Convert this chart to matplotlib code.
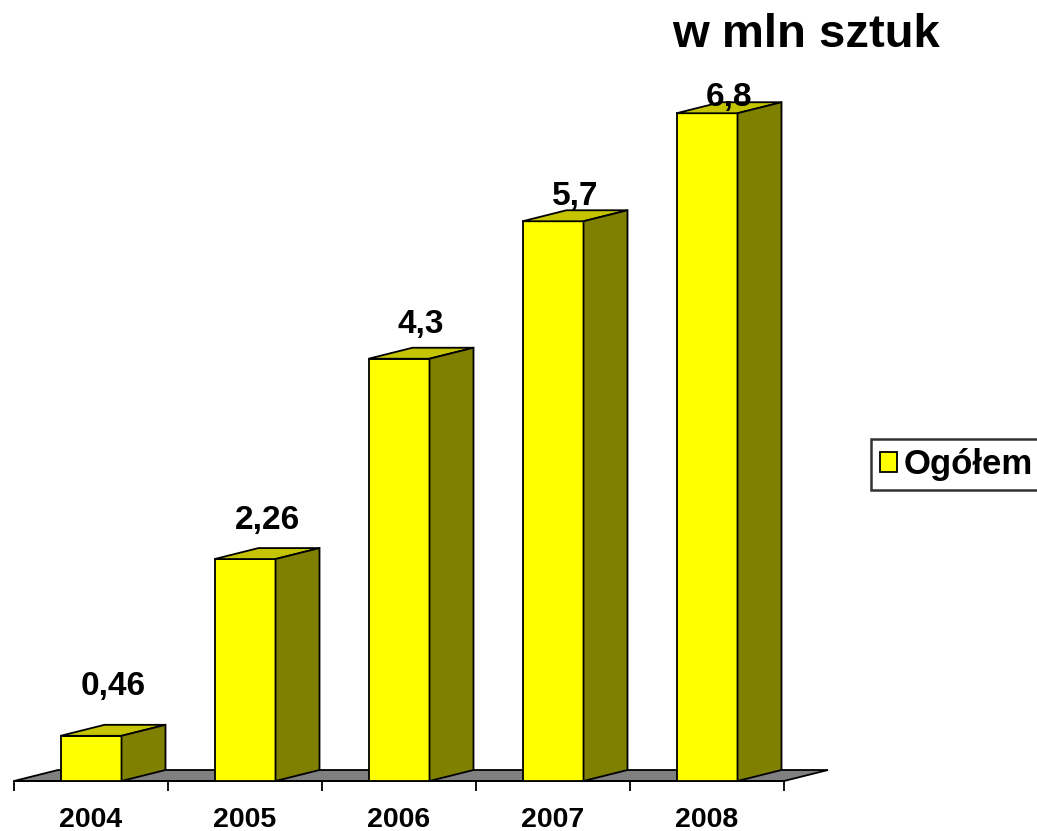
import matplotlib
matplotlib.use("Agg")
import matplotlib.pyplot as plt
from matplotlib.patches import Polygon, Patch
from matplotlib.ticker import FixedLocator

# ---- data ----
years = ["2004", "2005", "2006", "2007", "2008"]
values = [0.46, 2.26, 4.3, 5.7, 6.8]
value_labels = ["0,46", "2,26", "4,3", "5,7", "6,8"]
series_name = "Ogółem"
title = "w mln sztuk"

# ---- layout / style ----
W, H, DPI = 1037, 831, 100
PX_X = 154.0          # pixels per category
PX_Y = 98.2           # pixels per unit value
half_w = 30.5 / PX_X  # half width of bar front face
dx = 44 / PX_X        # depth offset (x)
dy = 11 / PX_Y        # depth offset (y)
label_offsets_px = [30, 19, 15, 5, -4]   # baseline above back top edge

front_col = "#FFFF00"
top_col = "#C4C400"
side_col = "#808000"
floor_col = "#808080"
lw = 1.3

regular = ["Liberation Sans", "DejaVu Sans"]

fig = plt.figure(figsize=(W / DPI, H / DPI), dpi=DPI)
ymax = 7.5
ax = fig.add_axes([14 / W, (H - 781) / H, 770 / W, ymax * PX_Y / H])
ax.set_xlim(-0.5, len(years) - 0.5)
ax.set_ylim(0, ymax)

# floor
floor = Polygon([(-0.5, 0), (len(years) - 0.5, 0),
                 (len(years) - 0.5 + dx, dy), (-0.5 + dx, dy)],
                closed=True, facecolor=floor_col, edgecolor="black",
                linewidth=lw, clip_on=False, zorder=1)
ax.add_patch(floor)

for i, v in enumerate(values):
    x0, x1 = i - half_w, i + half_w
    front = Polygon([(x0, 0), (x1, 0), (x1, v), (x0, v)], closed=True,
                    facecolor=front_col, edgecolor="black", linewidth=lw,
                    clip_on=False, zorder=3)
    top = Polygon([(x0, v), (x1, v), (x1 + dx, v + dy), (x0 + dx, v + dy)],
                  closed=True, facecolor=top_col, edgecolor="black",
                  linewidth=lw, clip_on=False, zorder=3)
    side = Polygon([(x1, 0), (x1 + dx, dy), (x1 + dx, v + dy), (x1, v)],
                   closed=True, facecolor=side_col, edgecolor="black",
                   linewidth=lw, clip_on=False, zorder=3)
    for p in (front, top, side):
        ax.add_patch(p)
    ax.text(i + dx / 2, v + dy + label_offsets_px[i] / PX_Y, value_labels[i],
            ha="center", va="baseline", fontsize=24, fontweight="bold",
            family=regular, zorder=5)

# axes styling
for s in ("top", "right", "left"):
    ax.spines[s].set_visible(False)
ax.spines["bottom"].set_linewidth(lw)
ax.spines["bottom"].set_zorder(2)
ax.set_yticks([])
ax.set_xticks(range(len(years)))
ax.set_xticklabels(years, fontsize=20.5, fontweight="bold", family=regular)
ax.xaxis.set_minor_locator(FixedLocator([k - 0.5 for k in range(len(years) + 1)]))
ax.tick_params(axis="x", which="major", length=0, pad=18.5)
ax.tick_params(axis="x", which="minor", length=7.5, width=lw, direction="out")
ax.patch.set_visible(False)

# title
fig.text(806 / W, 1 - 47 / H, title, ha="center", va="baseline",
         fontsize=34, fontweight="bold", family=regular)

# legend
handle = Patch(facecolor=front_col, edgecolor="black", linewidth=lw)
leg = fig.legend([handle], [series_name], loc="center left",
                 bbox_to_anchor=(871 / W, 1 - 464.5 / H),
                 bbox_transform=fig.transFigure,
                 prop={"family": regular, "weight": "bold", "size": 25},
                 frameon=True, fancybox=False, shadow=False,
                 handlelength=0.5, handleheight=0.5, handletextpad=0.2,
                 borderpad=0.25, borderaxespad=0.0)
leg.get_frame().set_edgecolor("black")
leg.get_frame().set_linewidth(1.8)

fig.savefig("out.png", dpi=DPI)
